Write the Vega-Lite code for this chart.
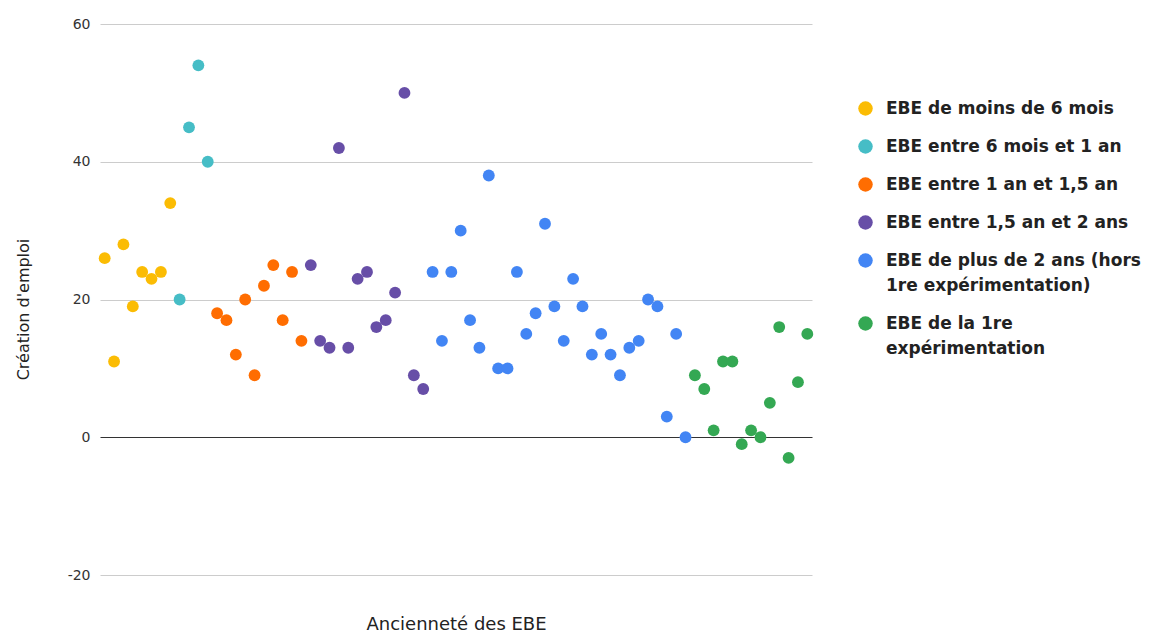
{
  "$schema": "https://vega.github.io/schema/vega-lite/v6.json",
  "width": 712,
  "height": 551,
  "autosize": "none",
  "padding": {"left": 100, "top": 24, "right": 345, "bottom": 60},
  "background": "white",
  "config": {"view": {"stroke": null}, "style": {"guide-label": {"lineHeight": 25}}},
  "data": {"values": [
    {"i":1,"v":26,"g":"EBE de moins de 6 mois"},
    {"i":2,"v":11,"g":"EBE de moins de 6 mois"},
    {"i":3,"v":28,"g":"EBE de moins de 6 mois"},
    {"i":4,"v":19,"g":"EBE de moins de 6 mois"},
    {"i":5,"v":24,"g":"EBE de moins de 6 mois"},
    {"i":6,"v":23,"g":"EBE de moins de 6 mois"},
    {"i":7,"v":24,"g":"EBE de moins de 6 mois"},
    {"i":8,"v":34,"g":"EBE de moins de 6 mois"},
    {"i":9,"v":20,"g":"EBE entre 6 mois et 1 an"},
    {"i":10,"v":45,"g":"EBE entre 6 mois et 1 an"},
    {"i":11,"v":54,"g":"EBE entre 6 mois et 1 an"},
    {"i":12,"v":40,"g":"EBE entre 6 mois et 1 an"},
    {"i":13,"v":18,"g":"EBE entre 1 an et 1,5 an"},
    {"i":14,"v":17,"g":"EBE entre 1 an et 1,5 an"},
    {"i":15,"v":12,"g":"EBE entre 1 an et 1,5 an"},
    {"i":16,"v":20,"g":"EBE entre 1 an et 1,5 an"},
    {"i":17,"v":9,"g":"EBE entre 1 an et 1,5 an"},
    {"i":18,"v":22,"g":"EBE entre 1 an et 1,5 an"},
    {"i":19,"v":25,"g":"EBE entre 1 an et 1,5 an"},
    {"i":20,"v":17,"g":"EBE entre 1 an et 1,5 an"},
    {"i":21,"v":24,"g":"EBE entre 1 an et 1,5 an"},
    {"i":22,"v":14,"g":"EBE entre 1 an et 1,5 an"},
    {"i":23,"v":25,"g":"EBE entre 1,5 an et 2 ans"},
    {"i":24,"v":14,"g":"EBE entre 1,5 an et 2 ans"},
    {"i":25,"v":13,"g":"EBE entre 1,5 an et 2 ans"},
    {"i":26,"v":42,"g":"EBE entre 1,5 an et 2 ans"},
    {"i":27,"v":13,"g":"EBE entre 1,5 an et 2 ans"},
    {"i":28,"v":23,"g":"EBE entre 1,5 an et 2 ans"},
    {"i":29,"v":24,"g":"EBE entre 1,5 an et 2 ans"},
    {"i":30,"v":16,"g":"EBE entre 1,5 an et 2 ans"},
    {"i":31,"v":17,"g":"EBE entre 1,5 an et 2 ans"},
    {"i":32,"v":21,"g":"EBE entre 1,5 an et 2 ans"},
    {"i":33,"v":50,"g":"EBE entre 1,5 an et 2 ans"},
    {"i":34,"v":9,"g":"EBE entre 1,5 an et 2 ans"},
    {"i":35,"v":7,"g":"EBE entre 1,5 an et 2 ans"},
    {"i":36,"v":24,"g":"EBE de plus de 2 ans (hors 1re expérimentation)"},
    {"i":37,"v":14,"g":"EBE de plus de 2 ans (hors 1re expérimentation)"},
    {"i":38,"v":24,"g":"EBE de plus de 2 ans (hors 1re expérimentation)"},
    {"i":39,"v":30,"g":"EBE de plus de 2 ans (hors 1re expérimentation)"},
    {"i":40,"v":17,"g":"EBE de plus de 2 ans (hors 1re expérimentation)"},
    {"i":41,"v":13,"g":"EBE de plus de 2 ans (hors 1re expérimentation)"},
    {"i":42,"v":38,"g":"EBE de plus de 2 ans (hors 1re expérimentation)"},
    {"i":43,"v":10,"g":"EBE de plus de 2 ans (hors 1re expérimentation)"},
    {"i":44,"v":10,"g":"EBE de plus de 2 ans (hors 1re expérimentation)"},
    {"i":45,"v":24,"g":"EBE de plus de 2 ans (hors 1re expérimentation)"},
    {"i":46,"v":15,"g":"EBE de plus de 2 ans (hors 1re expérimentation)"},
    {"i":47,"v":18,"g":"EBE de plus de 2 ans (hors 1re expérimentation)"},
    {"i":48,"v":31,"g":"EBE de plus de 2 ans (hors 1re expérimentation)"},
    {"i":49,"v":19,"g":"EBE de plus de 2 ans (hors 1re expérimentation)"},
    {"i":50,"v":14,"g":"EBE de plus de 2 ans (hors 1re expérimentation)"},
    {"i":51,"v":23,"g":"EBE de plus de 2 ans (hors 1re expérimentation)"},
    {"i":52,"v":19,"g":"EBE de plus de 2 ans (hors 1re expérimentation)"},
    {"i":53,"v":12,"g":"EBE de plus de 2 ans (hors 1re expérimentation)"},
    {"i":54,"v":15,"g":"EBE de plus de 2 ans (hors 1re expérimentation)"},
    {"i":55,"v":12,"g":"EBE de plus de 2 ans (hors 1re expérimentation)"},
    {"i":56,"v":9,"g":"EBE de plus de 2 ans (hors 1re expérimentation)"},
    {"i":57,"v":13,"g":"EBE de plus de 2 ans (hors 1re expérimentation)"},
    {"i":58,"v":14,"g":"EBE de plus de 2 ans (hors 1re expérimentation)"},
    {"i":59,"v":20,"g":"EBE de plus de 2 ans (hors 1re expérimentation)"},
    {"i":60,"v":19,"g":"EBE de plus de 2 ans (hors 1re expérimentation)"},
    {"i":61,"v":3,"g":"EBE de plus de 2 ans (hors 1re expérimentation)"},
    {"i":62,"v":15,"g":"EBE de plus de 2 ans (hors 1re expérimentation)"},
    {"i":63,"v":0,"g":"EBE de plus de 2 ans (hors 1re expérimentation)"},
    {"i":64,"v":9,"g":"EBE de la 1re expérimentation"},
    {"i":65,"v":7,"g":"EBE de la 1re expérimentation"},
    {"i":66,"v":1,"g":"EBE de la 1re expérimentation"},
    {"i":67,"v":11,"g":"EBE de la 1re expérimentation"},
    {"i":68,"v":11,"g":"EBE de la 1re expérimentation"},
    {"i":69,"v":-1,"g":"EBE de la 1re expérimentation"},
    {"i":70,"v":1,"g":"EBE de la 1re expérimentation"},
    {"i":71,"v":0,"g":"EBE de la 1re expérimentation"},
    {"i":72,"v":5,"g":"EBE de la 1re expérimentation"},
    {"i":73,"v":16,"g":"EBE de la 1re expérimentation"},
    {"i":74,"v":-3,"g":"EBE de la 1re expérimentation"},
    {"i":75,"v":8,"g":"EBE de la 1re expérimentation"},
    {"i":76,"v":15,"g":"EBE de la 1re expérimentation"}
  ]},
  "mark": {"type": "circle", "size": 140, "opacity": 1},
  "encoding": {
    "x": {
      "field": "i", "type": "quantitative",
      "scale": {"domain": [0.5, 76.5], "nice": false, "zero": false},
      "axis": {
        "title": "Ancienneté des EBE", "labels": false, "ticks": false, "grid": false, "domain": false,
        "titleFont": "DejaVu Sans", "titleFontSize": 18, "titleFontWeight": "normal", "titleColor": "#222",
        "titlePadding": 40
      }
    },
    "y": {
      "field": "v", "type": "quantitative",
      "scale": {"domain": [-20, 60], "nice": false},
      "axis": {
        "title": "Création d'emploi", "values": [-20, 0, 20, 40, 60],
        "ticks": false, "domain": false, "labelPadding": 10,
        "labelExpr": "replace(datum.label, '−', '-')",
        "labelFont": "DejaVu Sans", "labelFontSize": 14, "labelColor": "#333",
        "gridColor": {"condition": {"test": "datum.value === 0", "value": "#333"}, "value": "#ccc"},
        "gridWidth": 1,
        "titleFont": "DejaVu Sans", "titleFontSize": 16, "titleFontWeight": "normal", "titleColor": "#222",
        "titlePadding": 36, "titleY": 285
      }
    },
    "color": {
      "field": "g", "type": "nominal",
      "sort": null,
      "scale": {
        "domain": ["EBE de moins de 6 mois", "EBE entre 6 mois et 1 an", "EBE entre 1 an et 1,5 an", "EBE entre 1,5 an et 2 ans", "EBE de plus de 2 ans (hors 1re expérimentation)", "EBE de la 1re expérimentation"],
        "range": ["#fbbc04", "#46bdc6", "#ff6d01", "#674ea7", "#4285f4", "#34a853"]
      },
      "legend": {
        "title": null, "orient": "none", "legendX": 757, "legendY": 76,
        "symbolType": "circle", "symbolSize": 210,
        "labelFont": "DejaVu Sans", "labelFontSize": 17, "labelFontWeight": "bold", "labelColor": "#222",
        "labelLimit": 340, "rowPadding": 20, "labelOffset": 12,
        "labelExpr": "datum.label == 'EBE de plus de 2 ans (hors 1re expérimentation)' ? ['EBE de plus de 2 ans (hors', '1re expérimentation)'] : datum.label == 'EBE de la 1re expérimentation' ? ['EBE de la 1re', 'expérimentation'] : datum.label"
      }
    }
  }
}
